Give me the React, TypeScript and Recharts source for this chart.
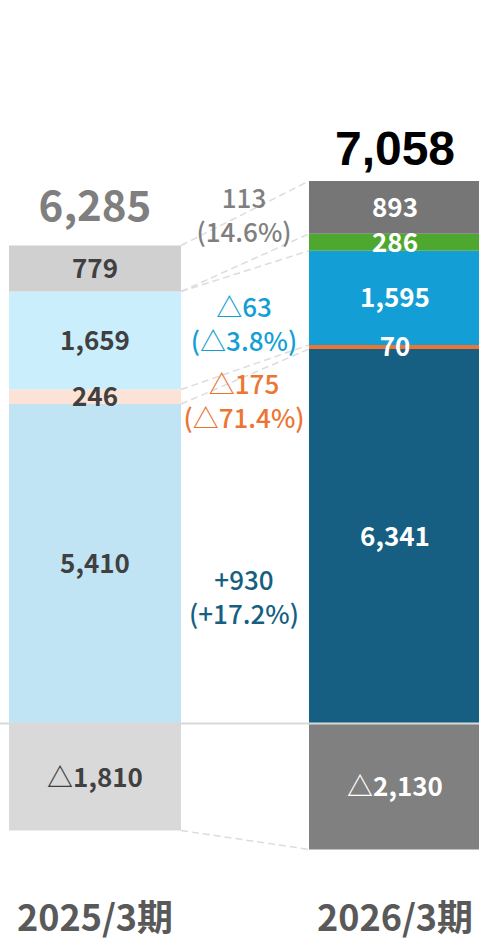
import React from 'react';
import { ComposedChart, Bar, XAxis, YAxis, Cell, LabelList, ReferenceLine, Rectangle } from 'recharts';

const periods = ['2025/3期', '2026/3期'];
const base = [5410, 6341];
const orange = [246, 70];
const blue = [1659, 1595];
const green = [0, 286];
const gray = [779, 893];
const minus = [-1810, -2130];
const totals = ['6,285', '7,058'];

const deltaLines = [
  ['113', '(14.6%)'],
  ['△63', '(△3.8%)'],
  ['△175', '(△71.4%)'],
  ['+930', '(+17.2%)'],
];
const deltaY = [8660, 6800, 5510, 2190];
const deltaColors = ['#7f7f7f', '#139fd6', '#ec7533', '#175f82'];

const FONT = '"Noto Sans CJK JP", "Noto Sans", sans-serif';

const series = [
  { key: 'base', colors: ['#c0e4f4', '#175f82'] },
  { key: 'orange', colors: ['#fde3d7', '#ec7533'] },
  { key: 'blue', colors: ['#cbeefc', '#139fd6'] },
  { key: 'green', colors: ['#cbeefc', '#4ea72e'] },
  { key: 'gray', colors: ['#d0d0d0', '#767676'] },
  { key: 'minus', colors: ['#d9d9d9', '#808080'] },
];

const data = periods.map((p, i) => ({
  period: p,
  base: base[i],
  orange: orange[i],
  blue: blue[i],
  green: green[i],
  gray: gray[i],
  minus: minus[i],
}));

// stack boundaries, used for the dashed connectors
const tops = (i: number) => {
  const b = base[i];
  const o = b + orange[i];
  const bl = o + blue[i];
  const g = bl + green[i];
  return { b, o, bl, g, top: g + gray[i], neg: minus[i] };
};
const L = tops(0);
const R = tops(1);
const connectors = [
  [L.top, R.top],
  [L.bl, R.g],
  [L.bl, R.bl],
  [L.o, R.o],
  [L.b, R.b],
  [L.neg, R.neg],
];

const BAR = 172;
const BAND = 300;
const GAP = BAND - BAR;

const fmt = (v: number) => v.toLocaleString('en-US');
const isRight = (x: number, width: number) => x + width / 2 > BAND;

const renderValue = (p: any) => {
  const { x, y, width, height, value } = p;
  if (!value) return null;
  const txt = value < 0 ? '△' + fmt(-value) : fmt(value);
  const right = isRight(x, width);
  return (
    <text
      x={x + width / 2}
      y={y + height / 2 - 2}
      textAnchor="middle"
      dominantBaseline="central"
      fontFamily={FONT}
      fontWeight={700}
      fontSize={26}
      fill={right ? '#ffffff' : '#404040'}
    >
      {txt}
    </text>
  );
};

const renderTotal = (p: any) => {
  const { x, y, width } = p;
  const right = isRight(x, width);
  return (
    <text
      x={x + width / 2}
      y={y - (right ? 16 : 24)}
      textAnchor="middle"
      fontFamily={right ? '"Liberation Sans", Arial, sans-serif' : FONT}
      fontWeight={700}
      fontSize={right ? 48 : 42}
      fill={right ? '#000000' : '#7f7f7f'}
    >
      {totals[right ? 1 : 0]}
    </text>
  );
};

// base segment of the right bar: its geometry gives the y scale, so the
// connectors and the change labels in the gap are drawn from here
const BaseShape = (p: any) => {
  const { x, y, width, height, payload } = p;
  if (!isRight(x, width)) return <Rectangle {...p} />;
  const zeroY = y + height;
  const k = height / payload.base;
  const py = (v: number) => zeroY - v * k;
  const x0 = x - GAP;
  const cx = x - GAP / 2 - 1;
  return (
    <g>
      <Rectangle {...p} />
      {connectors.map((c, i) => (
        <line
          key={i}
          x1={x0}
          y1={py(c[0])}
          x2={x}
          y2={py(c[1])}
          stroke="#dcdcdc"
          strokeWidth={1.5}
          strokeDasharray="7 4"
        />
      ))}
      {deltaLines.map((d, i) => (
        <text key={i} textAnchor="middle" fontFamily={FONT} fontWeight={500} fontSize={26} fill={deltaColors[i]}>
          <tspan x={cx} y={py(deltaY[i]) - 16} dominantBaseline="central">{d[0]}</tspan>
          <tspan x={cx} y={py(deltaY[i]) + 18} dominantBaseline="central">{d[1]}</tspan>
        </text>
      ))}
    </g>
  );
};

export default function App() {
  return (
    <div style={{ position: 'absolute', left: 0, top: 0, width: 479, height: 941, overflow: 'hidden', background: '#fff' }}>
      <div style={{ position: 'absolute', left: -55, top: 0 }}>
        <ComposedChart
          width={BAND * 2}
          height={941}
          data={data}
          stackOffset="sign"
          margin={{ top: 0, right: 0, bottom: 0, left: 0 }}
        >
          <XAxis
            dataKey="period"
            axisLine={false}
            tickLine={false}
            height={52}
            tickMargin={10}
            tick={{ fontSize: 36, fontWeight: 700, fill: '#595959', fontFamily: FONT }}
          />
          <YAxis hide domain={[-2800, 12250]} allowDataOverflow />
          {series.map((s) => (
            <Bar
              key={s.key}
              dataKey={s.key}
              stackId="a"
              barSize={BAR}
              isAnimationActive={false}
              shape={s.key === 'base' ? BaseShape : undefined}
            >
              {data.map((_, i) => (
                <Cell key={i} fill={s.colors[i]} />
              ))}
              <LabelList dataKey={s.key} content={renderValue} />
              {s.key === 'gray' && <LabelList dataKey={s.key} content={renderTotal} />}
            </Bar>
          ))}
          <ReferenceLine y={0} stroke="#d9d9d9" strokeWidth={2} />
        </ComposedChart>
      </div>
    </div>
  );
}
